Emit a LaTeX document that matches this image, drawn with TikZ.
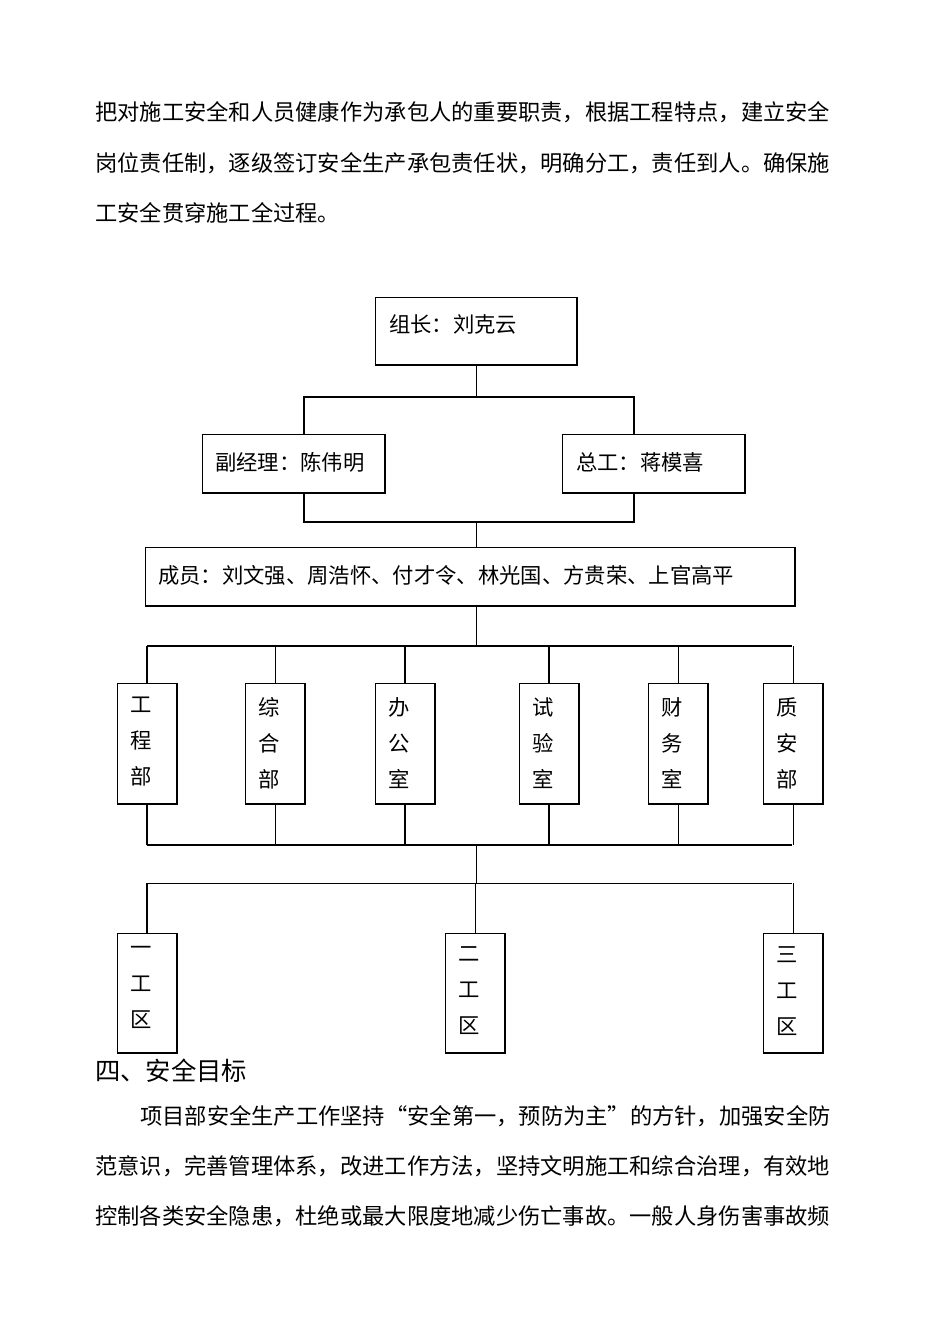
\documentclass[tikz,border=0pt]{standalone}
\usepackage{fontspec}
\newfontfamily\cjk{Noto Sans CJK SC}
\begin{document}
\begin{tikzpicture}[x=0.75pt,y=-0.75pt,
  txt/.style={anchor=west,inner sep=0pt,font=\cjk\fontsize{16.7pt}{20pt}\selectfont},
  lbl/.style={inner sep=0pt,font=\cjk\fontsize{16pt}{20pt}\selectfont},
  vlbl/.style={inner sep=0pt,align=center,font=\cjk\fontsize{16pt}{27pt}\selectfont},
  ln/.style={line width=0.7pt},
  tk/.style={line width=1.6pt}]
\useasboundingbox (0,0) rectangle (950,1344);
\node[txt] (p1) at (95,112) {把对施工安全和人员健康作为承包人的重要职责，根据工程特点，建立安全};
\node[txt] (p2) at (95,163) {岗位责任制，逐级签订安全生产承包责任状，明确分工，责任到人。确保施};
\node[txt] (p3) at (95,213) {工安全贯穿施工全过程。};
% boxes
\newcommand{\bx}[5]{%
  \draw[ln] (#1,#2) rectangle (#3,#4);
  \draw[tk] (#1,#4) -- (#3,#4) -- (#3,#2);
  \coordinate (#5-n) at ({(#1+#3)/2},#2);
  \coordinate (#5-s) at ({(#1+#3)/2},#4);}
\bx{375}{297}{577}{365}{z}
\node[lbl,anchor=west] (zt) at (389,324) {组长：刘克云};
\bx{202}{434}{385}{493}{f}
\node[lbl,anchor=west] (ft) at (215,462) {副经理：陈伟明};
\bx{562}{434}{745}{493}{g}
\node[lbl,anchor=west] (gt) at (576,462) {总工：蒋模喜};
\bx{145}{547}{795}{606}{c}
\node[lbl,anchor=west] (ct) at (158,575) {成员：刘文强、周浩怀、付才令、林光国、方贵荣、上官高平};
% connectors
\draw[ln] (476,365) -- (476,397);
\draw[tk] (304,434) -- (304,397) -- (634,397) -- (634,434);
\draw[tk] (304,493) -- (304,522) -- (634,522) -- (634,493);
\draw[ln] (476,522) -- (476,547);
\draw[ln] (476,606) -- (476,646);
\draw[tk] (147,646) -- (792,646);
% departments
\foreach \a/\b/\t/\nm/\w in {117/177/工\\程\\部/d1/1.6pt,245/305/综\\合\\部/d2/0.7pt,375/435/办\\公\\室/d3/1.6pt,519/579/试\\验\\室/d4/1.6pt,648/708/财\\务\\室/d5/0.7pt,763/823/质\\安\\部/d6/0.7pt}{
  \draw[ln] (\a,683) rectangle (\b,804);
  \draw[tk] (\a,804) -- (\b,804) -- (\b,683);
  \node[vlbl,anchor=north] (\nm) at ({(\a+\b)/2-6},697) {\t};
  \draw[line width=\w] ({\a+30},646) -- ({\a+30},683);
  \draw[line width=\w] ({\a+30},804) -- ({\a+30},845);
}
\draw[tk] (147,845) -- (792,845);
\draw[ln] (476,845) -- (476,883);
\draw[ln] (147,883) -- (792,883);
\foreach \a/\t/\nm/\w in {117/一\\工\\区/w1/1.6pt,445/二\\工\\区/w2/0.7pt,763/三\\工\\区/w3/0.7pt}{
  \draw[ln] (\a,933) rectangle ({\a+60},1053);
  \draw[tk] (\a,1053) -- ({\a+60},1053) -- ({\a+60},933);
  \node[vlbl,anchor=north] (\nm) at ({\a+24},946) {\t};
  \draw[line width=\w] ({\a+30},883) -- ({\a+30},933);
}
\node[txt,font=\cjk\fontsize{19pt}{22pt}\selectfont] (h) at (95,1071) {四、安全目标};
\node[txt] (q1) at (140,1116) {项目部安全生产工作坚持“安全第一，预防为主”的方针，加强安全防};
\node[txt] (q2) at (95,1166) {范意识，完善管理体系，改进工作方法，坚持文明施工和综合治理，有效地};
\node[txt] (q3) at (95,1216) {控制各类安全隐患，杜绝或最大限度地减少伤亡事故。一般人身伤害事故频};
\end{tikzpicture}
\end{document}
